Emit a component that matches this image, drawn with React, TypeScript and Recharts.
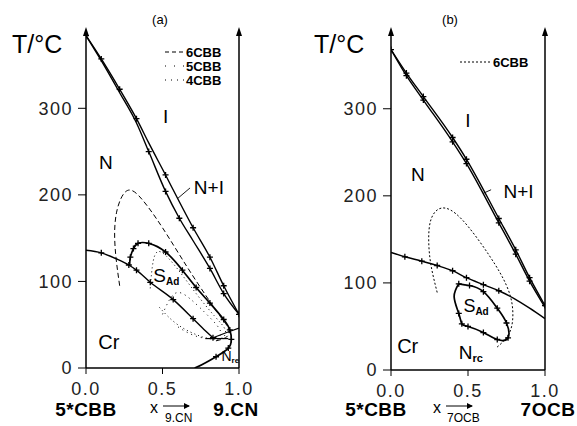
import React from 'react';
import { ComposedChart, Line, XAxis, YAxis, ReferenceLine, ReferenceDot } from 'recharts';

type P = { x: number; y: number; m?: number };

const xTicks = [0, 0.5, 1];
const yTicks = [0, 100, 200, 300];
const yMax = 387;

// ---------- panel (a): 5*CBB + 9.CN ----------
const aNIUpper: P[] = [
  { x: 0, y: 384, m: 1 }, { x: 0.1, y: 357, m: 1 }, { x: 0.22, y: 322, m: 1 }, { x: 0.33, y: 288, m: 1 },
  { x: 0.41, y: 260 }, { x: 0.52, y: 223, m: 1 }, { x: 0.61, y: 192 }, { x: 0.7, y: 162, m: 1 },
  { x: 0.81, y: 128, m: 1 }, { x: 0.9, y: 95, m: 1 }, { x: 1.0, y: 62, m: 1 },
];
const aNILower: P[] = [
  { x: 0, y: 384 }, { x: 0.1, y: 355 }, { x: 0.22, y: 318 }, { x: 0.33, y: 283 },
  { x: 0.41, y: 250, m: 1 }, { x: 0.52, y: 204, m: 1 }, { x: 0.61, y: 173, m: 1 }, { x: 0.7, y: 147 },
  { x: 0.81, y: 115, m: 1 }, { x: 0.9, y: 86, m: 1 }, { x: 1.0, y: 62 },
];
const aCryst: P[] = [
  { x: 0, y: 136 }, { x: 0.1, y: 133, m: 1 }, { x: 0.2, y: 126 }, { x: 0.28, y: 119, m: 1 },
  { x: 0.33, y: 113, m: 1 }, { x: 0.42, y: 99, m: 1 }, { x: 0.57, y: 79, m: 1 }, { x: 0.7, y: 57, m: 1 },
  { x: 0.78, y: 43 }, { x: 0.83, y: 35, m: 1 },
];
const aCryst9CN: P[] = [
  { x: 0.83, y: 35 }, { x: 0.92, y: 41 }, { x: 1.0, y: 46 },
];
const aTie: P[] = [
  { x: 0.78, y: 34 }, { x: 0.93, y: 34 },
];
const aSAd: P[] = [
  { x: 0.285, y: 119 }, { x: 0.29, y: 128, m: 1 }, { x: 0.31, y: 138, m: 1 }, { x: 0.34, y: 144, m: 1 },
  { x: 0.41, y: 144, m: 1 }, { x: 0.52, y: 134, m: 1 }, { x: 0.63, y: 113, m: 1 }, { x: 0.72, y: 93, m: 1 },
  { x: 0.81, y: 75, m: 1 }, { x: 0.9, y: 56, m: 1 }, { x: 0.94, y: 44, m: 1 }, { x: 0.95, y: 33, m: 1 },
  { x: 0.93, y: 23, m: 1 }, { x: 0.85, y: 13, m: 1 }, { x: 0.76, y: 4 }, { x: 0.71, y: 0 },
];
const a6CBB: P[] = [
  { x: 0.22, y: 95 }, { x: 0.19, y: 140 }, { x: 0.2, y: 180 }, { x: 0.27, y: 205 },
  { x: 0.37, y: 194 }, { x: 0.5, y: 162 }, { x: 0.66, y: 117 }, { x: 0.79, y: 82 },
  { x: 0.88, y: 59 }, { x: 0.93, y: 46 }, { x: 0.92, y: 36 }, { x: 0.84, y: 31 },
];
const a5CBB: P[] = [
  { x: 0.42, y: 92 }, { x: 0.44, y: 124 }, { x: 0.49, y: 134 }, { x: 0.6, y: 114 },
  { x: 0.72, y: 86 }, { x: 0.84, y: 60 }, { x: 0.91, y: 44 }, { x: 0.88, y: 34 },
  { x: 0.76, y: 36 }, { x: 0.6, y: 50 }, { x: 0.48, y: 70 },
];
const a4CBB: P[] = [
  { x: 0.5, y: 62 }, { x: 0.58, y: 86 }, { x: 0.68, y: 80 }, { x: 0.8, y: 60 },
  { x: 0.88, y: 42 }, { x: 0.83, y: 34 }, { x: 0.7, y: 38 }, { x: 0.58, y: 50 },
];
const aLeader: P[] = [{ x: 0.6, y: 196 }, { x: 0.68, y: 208 }];

// ---------- panel (b): 5*CBB + 7OCB ----------
const bNIUpper: P[] = [
  { x: 0, y: 368, m: 1 }, { x: 0.1, y: 341, m: 1 }, { x: 0.21, y: 314, m: 1 }, { x: 0.4, y: 267, m: 1 },
  { x: 0.49, y: 242, m: 1 }, { x: 0.7, y: 174, m: 1 }, { x: 0.81, y: 138, m: 1 }, { x: 0.9, y: 106, m: 1 },
  { x: 1.0, y: 74, m: 1 },
];
const bNILower: P[] = [
  { x: 0, y: 368 }, { x: 0.1, y: 338, m: 1 }, { x: 0.21, y: 310, m: 1 }, { x: 0.4, y: 262, m: 1 },
  { x: 0.49, y: 237, m: 1 }, { x: 0.7, y: 169, m: 1 }, { x: 0.81, y: 133, m: 1 }, { x: 0.9, y: 102, m: 1 },
  { x: 1.0, y: 72 },
];
const bCryst: P[] = [
  { x: 0, y: 135 }, { x: 0.09, y: 130, m: 1 }, { x: 0.2, y: 125, m: 1 }, { x: 0.3, y: 120, m: 1 },
  { x: 0.4, y: 114, m: 1 }, { x: 0.49, y: 106, m: 1 }, { x: 0.6, y: 98, m: 1 }, { x: 0.7, y: 91, m: 1 },
  { x: 0.8, y: 82 }, { x: 0.9, y: 71 }, { x: 1.0, y: 59 },
];
const bSAd: P[] = [
  { x: 0.44, y: 99, m: 1 }, { x: 0.51, y: 97, m: 1 }, { x: 0.6, y: 90, m: 1 }, { x: 0.69, y: 71, m: 1 },
  { x: 0.75, y: 54, m: 1 }, { x: 0.76, y: 37, m: 1 }, { x: 0.69, y: 35, m: 1 }, { x: 0.6, y: 43, m: 1 },
  { x: 0.5, y: 50, m: 1 }, { x: 0.46, y: 53, m: 1 }, { x: 0.44, y: 65, m: 1 }, { x: 0.41, y: 84 },
  { x: 0.44, y: 99 },
];
const b6CBB: P[] = [
  { x: 0.3, y: 89 }, { x: 0.26, y: 120 }, { x: 0.245, y: 148 }, { x: 0.26, y: 173 },
  { x: 0.33, y: 186 }, { x: 0.46, y: 173 }, { x: 0.64, y: 131 }, { x: 0.75, y: 97 },
  { x: 0.79, y: 70 }, { x: 0.77, y: 43 }, { x: 0.68, y: 25 },
];
const bLeader: P[] = [{ x: 0.6, y: 203 }, { x: 0.65, y: 207 }];

const FONT = '"Liberation Sans", Arial, Helvetica, sans-serif';

const renderCross = (props: any) => {
  const { cx, cy, payload, index } = props;
  if (!payload || !payload.m || cx == null || cy == null) return <g key={`n${index}`} />;
  return (
    <path
      key={`c${index}`}
      d={`M${cx - 3},${cy}H${cx + 3}M${cx},${cy - 3}V${cy + 3}`}
      stroke="#000"
      strokeWidth={1.3}
      fill="none"
    />
  );
};

const arrowShape = (p: any) => (
  <path d={`M${p.cx},${p.cy - 6}L${p.cx - 3},${p.cy + 3}L${p.cx + 3},${p.cy + 3}Z`} fill="#000" />
);

const textShape = (main: string, sub: string | null, size: number, subSize: number, anchor: string = 'start') =>
  (p: any) => (
    <text x={p.cx} y={p.cy} fontFamily={FONT} fontSize={size} fill="#000" textAnchor={anchor as any} dominantBaseline="central">
      {main}
      {sub ? (
        <tspan fontSize={subSize} fontWeight="bold" dy={size * 0.3}>{sub}</tspan>
      ) : null}
    </text>
  );

const curve = (data: P[], key: string, opts: any = {}) => (
  <Line
    key={key}
    data={data}
    dataKey="y"
    type={opts.type || 'natural'}
    stroke="#000"
    strokeWidth={opts.w || 1.4}
    strokeDasharray={opts.dash}
    dot={opts.noDot ? false : renderCross}
    activeDot={false}
    isAnimationActive={false}
    legendType="none"
  />
);

const axisTick = { fontFamily: FONT, fontSize: 18, fill: '#222', letterSpacing: 1.5 };

const Panel = ({ width, margin, children }: any) => (
  <ComposedChart width={width} height={426} margin={margin}>
    <XAxis
      type="number"
      dataKey="x"
      domain={[0, 1]}
      ticks={xTicks}
      tickFormatter={(v: number) => v.toFixed(1)}
      allowDataOverflow
      height={30}
      tickSize={6}
      tickMargin={8}
      tick={axisTick}
      stroke="#000"
      axisLine={{ stroke: '#000', strokeWidth: 1.5 }}
    />
    <YAxis
      type="number"
      domain={[0, yMax]}
      ticks={yTicks}
      allowDataOverflow
      width={40}
      tickSize={8}
      tickMargin={5}
      tick={axisTick}
      stroke="#000"
      axisLine={{ stroke: '#000', strokeWidth: 1.5 }}
    />
    <ReferenceLine x={1} stroke="#000" strokeWidth={1.5} />
    <ReferenceDot x={0} y={yMax} r={0} ifOverflow="visible" shape={arrowShape} />
    <ReferenceDot x={1} y={yMax} r={0} ifOverflow="visible" shape={arrowShape} />
    {children}
  </ComposedChart>
);

export default function App() {
  return (
    <div style={{ position: 'absolute', left: 0, top: 0, width: 577, height: 426, background: '#fff', overflow: 'hidden' }}>
      <div style={{ position: 'absolute', left: 0, top: 0 }}>
        <Panel width={290} margin={{ top: 33, right: 51, bottom: 28, left: 46 }}>
          {curve(a6CBB, 'a6', { noDot: true, dash: '5 3', w: 1 })}
          {curve(a5CBB, 'a5', { noDot: true, dash: '1 3', w: 1 })}
          {curve(a4CBB, 'a4', { noDot: true, dash: '1 4', w: 1 })}
          {curve(aNIUpper, 'aNIu', { type: 'monotone' })}
          {curve(aNILower, 'aNIl', { type: 'monotone' })}
          {curve(aCryst, 'aCr', { type: 'monotone' })}
          {curve(aCryst9CN, 'aCr9', { type: 'linear', w: 1.2 })}
          {curve(aTie, 'aTie', { type: 'linear', w: 1.2, noDot: true })}
          {curve(aSAd, 'aSAd', { w: 1.7 })}
          {curve(aLeader, 'aLd', { type: 'linear', w: 0.9, noDot: true })}
          <ReferenceDot x={0.52} y={290} r={0} ifOverflow="visible" shape={textShape('I', null, 19, 0, 'middle')} />
          <ReferenceDot x={0.13} y={237} r={0} ifOverflow="visible" shape={textShape('N', null, 19, 0, 'middle')} />
          <ReferenceDot x={0.705} y={208} r={0} ifOverflow="visible" shape={textShape('N+I', null, 19, 0)} />
          <ReferenceDot x={0.44} y={107} r={0} ifOverflow="visible" shape={textShape('S', 'Ad', 19, 10)} />
          <ReferenceDot x={0.08} y={30} r={0} ifOverflow="visible" shape={textShape('Cr', null, 20, 0)} />
          <ReferenceDot x={0.885} y={14} r={0} ifOverflow="visible" shape={textShape('N', 're', 14, 8)} />
        </Panel>
      </div>
      <div style={{ position: 'absolute', left: 290, top: 0 }}>
        <Panel width={287} margin={{ top: 33, right: 32, bottom: 26, left: 61 }}>
          {curve(b6CBB, 'b6', { noDot: true, dash: '2 2', w: 1 })}
          {curve(bNIUpper, 'bNIu', { type: 'monotone' })}
          {curve(bNILower, 'bNIl', { type: 'monotone' })}
          {curve(bCryst, 'bCr', { type: 'monotone' })}
          {curve(bSAd, 'bSAd', { w: 1.7 })}
          {curve(bLeader, 'bLd', { type: 'linear', w: 0.9, noDot: true })}
          <ReferenceDot x={0.5} y={286} r={0} ifOverflow="visible" shape={textShape('I', null, 19, 0, 'middle')} />
          <ReferenceDot x={0.175} y={224} r={0} ifOverflow="visible" shape={textShape('N', null, 19, 0, 'middle')} />
          <ReferenceDot x={0.73} y={205} r={0} ifOverflow="visible" shape={textShape('N+I', null, 19, 0)} />
          <ReferenceDot x={0.47} y={74} r={0} ifOverflow="visible" shape={textShape('S', 'Ad', 18, 10)} />
          <ReferenceDot x={0.04} y={27} r={0} ifOverflow="visible" shape={textShape('Cr', null, 20, 0)} />
          <ReferenceDot x={0.44} y={20} r={0} ifOverflow="visible" shape={textShape('N', 'rc', 19, 11)} />
        </Panel>
      </div>
      <svg width={577} height={426} style={{ position: 'absolute', left: 0, top: 0, pointerEvents: 'none' }}>
        <g fontFamily={FONT} fill="#000">
          <text x={160} y={24} fontSize={13} textAnchor="middle">(a)</text>
          <text x={450} y={24} fontSize={13} textAnchor="middle">(b)</text>
          <text x={12} y={53} fontSize={25}>T/°C</text>
          <text x={314} y={53} fontSize={25}>T/°C</text>
          {/* legend (a) */}
          <line x1={165} y1={52} x2={184} y2={52} stroke="#000" strokeWidth={1.2} strokeDasharray="4 3" />
          <text x={186} y={57} fontSize={13} fontWeight="bold">6CBB</text>
          <line x1={165} y1={66} x2={184} y2={66} stroke="#000" strokeWidth={1} strokeDasharray="1 8" />
          <text x={186} y={71} fontSize={13} fontWeight="bold">5CBB</text>
          <line x1={165} y1={80} x2={184} y2={80} stroke="#000" strokeWidth={1} strokeDasharray="1 5" />
          <text x={186} y={85} fontSize={13} fontWeight="bold">4CBB</text>
          {/* legend (b) */}
          <line x1={460} y1={62} x2={490} y2={62} stroke="#000" strokeWidth={1} strokeDasharray="2 2" />
          <text x={493} y={67} fontSize={13} fontWeight="bold">6CBB</text>
          {/* axis labels (a) */}
          <text x={86} y={416} fontSize={19} fontWeight="bold" textAnchor="middle" letterSpacing={0.5}>5*CBB</text>
          <text x={150} y={413} fontSize={16}>x</text>
          <line x1={163} y1={406} x2={189} y2={406} stroke="#000" strokeWidth={1} />
          <path d="M190,406 L184,403 L184,409 Z" fill="#000" />
          <text x={165} y={422} fontSize={12}>9.CN</text>
          <text x={236} y={416} fontSize={19} fontWeight="bold" textAnchor="middle" letterSpacing={0.5}>9.CN</text>
          {/* axis labels (b) */}
          <text x={376} y={416} fontSize={19} fontWeight="bold" textAnchor="middle" letterSpacing={0.5}>5*CBB</text>
          <text x={433} y={413} fontSize={16}>x</text>
          <line x1={446} y1={406} x2={472} y2={406} stroke="#000" strokeWidth={1} />
          <path d="M473,406 L467,403 L467,409 Z" fill="#000" />
          <text x={447} y={422} fontSize={12}>7OCB</text>
          <text x={548} y={416} fontSize={19} fontWeight="bold" textAnchor="middle" letterSpacing={0.5}>7OCB</text>
        </g>
      </svg>
    </div>
  );
}
